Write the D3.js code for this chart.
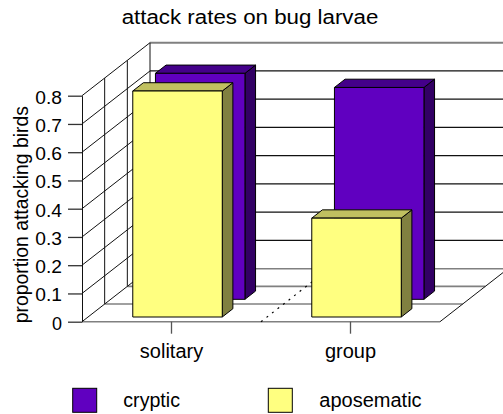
<!DOCTYPE html>
<html>
<head>
<meta charset="utf-8">
<script src="https://cdn.jsdelivr.net/npm/d3@7"></script>
<style>
  html, body { margin: 0; padding: 0; background: #fff; }
  svg { display: block; font-family: "Liberation Sans", Arial, sans-serif; }
</style>
</head>
<body>
<svg id="chart" width="503" height="414"></svg>
<script>
// Attack rates on bug larvae: 3D column chart, series arranged in depth
const categories = ["solitary", "group"];
const seriesNames = ["cryptic", "aposematic"];
const cryptic = [0.80, 0.75];
const aposematic = [0.80, 0.35];
const yTicks = [0, 0.1, 0.2, 0.3, 0.4, 0.5, 0.6, 0.7, 0.8];
const yTickLabels = ["0", "0.1", "0.2", "0.3", "0.4", "0.5", "0.6", "0.7", "0.8"];

const colors = {
  cryptic:    { front: "#6000C0", top: "#44008A", side: "#320064" },
  aposematic: { front: "#FFFF80", top: "#C0C060", side: "#808040" }
};

const svg = d3.select("#chart");

// front plane scales
const x = d3.scaleBand().domain(categories).range([82, 440]);
const y = d3.scaleLinear().domain([0, 0.8]).range([321.7, 95.7]);
// depth vector of the full chart box
const DX = 68, DY = 53;
// depth position (fraction of box depth) of each series row, front to back
const depth = d3.scalePoint().domain(["aposematic", "cryptic"]).range([1 / 6, 1 / 2]);
const barDepth = 0.156;
const barWidth = x.bandwidth() * 0.5;

const x0 = x.range()[0], x1 = x.range()[1];
const y0 = y(0), yTop = y(0.8);
const line = (g, ax, ay, bx, by, stroke, w, dash) =>
  g.append("line").attr("x1", ax).attr("y1", ay).attr("x2", bx).attr("y2", by)
    .attr("stroke", stroke).attr("stroke-width", w).attr("stroke-dasharray", dash || null);

// ---- walls and floor ----
const walls = svg.append("g");
// back wall gridlines
yTicks.forEach(v => {
  if (v === 0) return;
  const top = v === 0.8;
  line(walls, x0 + DX, y(v) - DY, x1 + DX, y(v) - DY, top ? "#808080" : "#111", top ? 2 : 1.2);
});
// side wall: diagonals at each tick and verticals across depth
yTicks.forEach(v => {
  if (v === 0) return;
  line(walls, x0, y(v), x0 + DX, y(v) - DY, "#111", 1);
});
[1 / 3, 2 / 3, 1].forEach(f => {
  line(walls, x0 + f * DX, yTop - f * DY, x0 + f * DX, y0 - f * DY, "#111", 1);
});
// floor
[1 / 3, 2 / 3, 1].forEach(f => {
  line(walls, x0 + f * DX, y0 - f * DY, x1 + f * DX, y0 - f * DY, "#808080", 1.6);
});
line(walls, x0, y0, x0 + DX, y0 - DY, "#111", 1);
line(walls, x1, y0, x1 + DX, y0 - DY, "#111", 1);
line(walls, x0, y0, x1, y0, "#808080", 1.6);
// category divider on the floor
const xDiv = x(categories[1]);
line(walls, xDiv, y0, xDiv + DX, y0 - DY, "#000", 1.2, "2,5");

// ---- bars ----
function drawBar(g, cat, val, series) {
  const c = colors[series];
  const cx = x(cat) + x.bandwidth() / 2;
  const xa = cx - barWidth / 2, xb = cx + barWidth / 2;
  const da = depth(series) - barDepth / 2, db = depth(series) + barDepth / 2;
  const yv = y(val);
  const P = (px, py, d) => [px + d * DX, py - d * DY];
  const poly = pts => g.append("polygon")
    .attr("points", pts.map(p => p.join(",")).join(" "))
    .attr("stroke", "#000").attr("stroke-width", 1).attr("stroke-linejoin", "round");
  // right side
  poly([P(xb, y0, da), P(xb, yv, da), P(xb, yv, db), P(xb, y0, db)]).attr("fill", c.side);
  // top
  poly([P(xa, yv, da), P(xb, yv, da), P(xb, yv, db), P(xa, yv, db)]).attr("fill", c.top);
  // front
  poly([P(xa, y0, da), P(xb, y0, da), P(xb, yv, da), P(xa, yv, da)]).attr("fill", c.front);
}
const bars = svg.append("g");
// back row first, then front row
categories.forEach((cat, i) => drawBar(bars, cat, cryptic[i], "cryptic"));
categories.forEach((cat, i) => drawBar(bars, cat, aposematic[i], "aposematic"));

// ---- axes ----
const yAxis = svg.append("g").attr("transform", `translate(${x0},0)`)
  .call(d3.axisLeft(y).tickValues(yTicks).tickSize(14).tickSizeOuter(0).tickPadding(6)
    .tickFormat((d, i) => yTickLabels[i]));
yAxis.select(".domain").attr("stroke", "#111").attr("stroke-width", 1);
yAxis.selectAll(".tick line").attr("stroke", "#333").attr("stroke-width", 1.3);
yAxis.selectAll(".tick text")
  .attr("font-family", "'Liberation Sans', Arial, sans-serif")
  .attr("font-size", 17.5).attr("fill", "#000").attr("dy", "0.43em")
  .attr("textLength", function () { return this.textContent.length === 1 ? 10 : 26.7; })
  .attr("lengthAdjust", "spacingAndGlyphs");

const xAxis = svg.append("g").attr("transform", `translate(0,${y0})`)
  .call(d3.axisBottom(x).tickSize(12).tickSizeOuter(0).tickPadding(10));
xAxis.select(".domain").remove();
xAxis.selectAll(".tick line").attr("stroke", "#555").attr("stroke-width", 1.3);
xAxis.selectAll(".tick text")
  .attr("font-family", "'Liberation Sans', Arial, sans-serif")
  .attr("font-size", 20).attr("fill", "#000");

// ---- titles ----
svg.append("text")
  .attr("x", 250).attr("y", 24).attr("text-anchor", "middle")
  .attr("font-size", 19.5).attr("textLength", 256.7).attr("lengthAdjust", "spacingAndGlyphs")
  .text("attack rates on bug larvae");

svg.append("text")
  .attr("transform", "translate(27.5,214.7) rotate(-90)")
  .attr("text-anchor", "middle").attr("font-size", 20.5)
  .attr("textLength", 217).attr("lengthAdjust", "spacingAndGlyphs")
  .text("proportion attacking birds");

// ---- legend ----
const legendItems = [
  { name: seriesNames[0], sx: 72.7, tx: 123.3, w: 56.7 },
  { name: seriesNames[1], sx: 268.3, tx: 319.3, w: 102.3 }
];
const legend = svg.append("g");
legendItems.forEach(it => {
  legend.append("rect").attr("x", it.sx).attr("y", 388.3).attr("width", 24).attr("height", 24)
    .attr("fill", colors[it.name].front).attr("stroke", "#000").attr("stroke-width", 1);
  legend.append("text").attr("x", it.tx).attr("y", 406.7).attr("font-size", 19.5)
    .attr("textLength", it.w).attr("lengthAdjust", "spacingAndGlyphs").text(it.name);
});
</script>
</body>
</html>
